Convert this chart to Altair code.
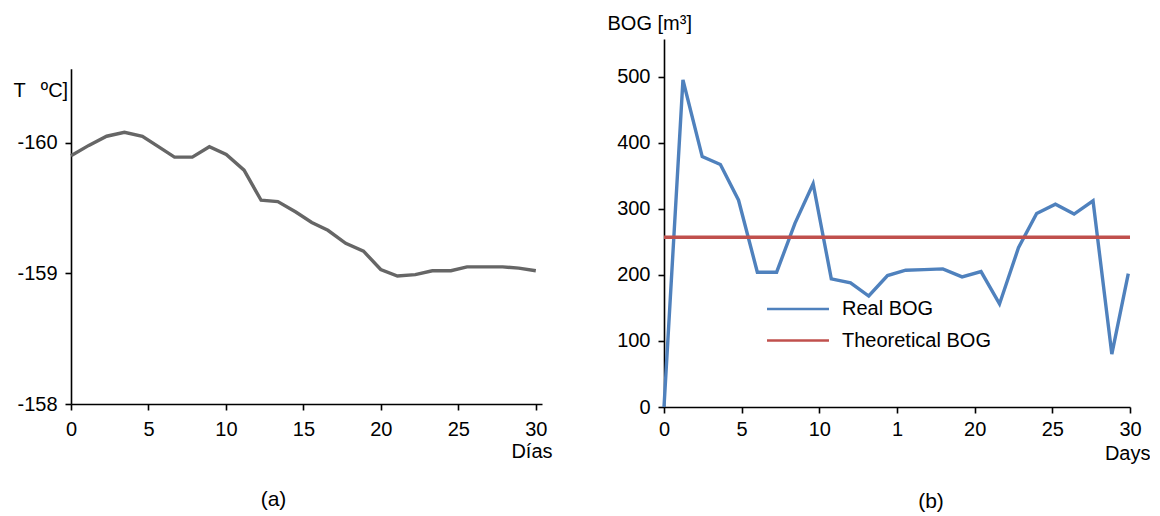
import altair as alt
import pandas as pd

# ---- data ----
temp_days = [0, 1.15, 2.30, 3.45, 4.61, 5.64, 6.68, 7.83, 8.93, 10.02, 11.17, 12.27, 13.35,
             14.51, 15.54, 16.58, 17.73, 18.88, 19.99, 21.07, 22.22, 23.32, 24.52, 25.56,
             26.71, 27.86, 28.90, 30.0]
temp_values = [-159.90, -159.98, -160.05, -160.08, -160.05, -159.97, -159.89, -159.89,
               -159.97, -159.91, -159.79, -159.56, -159.55, -159.47, -159.39, -159.33,
               -159.23, -159.17, -159.03, -158.98, -158.99, -159.02, -159.02, -159.05,
               -159.05, -159.05, -159.04, -159.02]

bog_days = [0, 1.22, 2.46, 3.63, 4.80, 6.01, 7.25, 8.43, 9.60, 10.77, 12.01, 13.18, 14.39,
            15.56, 16.73, 17.95, 19.19, 20.41, 21.60, 22.82, 23.99, 25.20, 26.40, 27.62,
            28.83, 29.89]
bog_real = [0, 495, 379, 367, 313, 204, 204, 278, 338, 194, 188, 168, 199, 207, 208, 209,
            197, 205, 156, 241, 293, 307, 292, 312, 80, 202]
theo_days = [0, 30]
theo_values = [257, 257]

series_names = ["Real BOG", "Theoretical BOG"]
series_colors = ["#4f81bd", "#c0504d"]
x_ticks = [0, 5, 10, 15, 20, 25, 30]
temp_ticks = [-160, -159, -158]
bog_ticks = [0, 100, 200, 300, 400, 500]

FONT = "Liberation Sans"

df_t = pd.DataFrame({"day": temp_days, "temp": temp_values})
df_b = pd.concat([
    pd.DataFrame({"day": bog_days, "bog": bog_real, "series": series_names[0]}),
    pd.DataFrame({"day": theo_days, "bog": theo_values, "series": series_names[1]}),
], ignore_index=True)

axis_common = dict(grid=False, domainColor="black", domainWidth=1.6, tickColor="black",
                   tickWidth=1.6, tickSize=6, labelFont=FONT, labelFontSize=20,
                   labelColor="black", titleFont=FONT, titleFontSize=20,
                   titleFontWeight="normal", titleColor="black")

left = alt.Chart(df_t).mark_line(color="#666666", strokeWidth=3.4).encode(
    x=alt.X("day:Q",
            scale=alt.Scale(domain=[0, 30.4], nice=False, zero=False),
            axis=alt.Axis(values=x_ticks, title="Días", labelPadding=9,
                          labelExpr="'' + datum.value",
                          titleAngle=0, titleAlign="right", titleBaseline="alphabetic",
                          titleX=481, titleY=53, labelFlush=False, **axis_common)),
    y=alt.Y("temp:Q",
            scale=alt.Scale(domain=[-160.567, -158], range=[29.7, 365], nice=False, zero=False),
            axis=alt.Axis(values=temp_ticks, title="T\u00a0\u00a0\u2009ºC]", labelPadding=8,
                          labelExpr="'' + datum.value",
                          titleAngle=0, titleAlign="left", titleBaseline="alphabetic",
                          titleX=-58, titleY=57, **axis_common)),
).properties(
    width=471, height=365,
    title=alt.TitleParams("(a)", orient="bottom", anchor="middle", dx=-33, offset=28,
                          font=FONT, fontSize=21, fontWeight="normal", color="black"),
)

bog_line = alt.Chart(df_b).mark_line(strokeWidth=3.4).encode(
    x=alt.X("day:Q",
            scale=alt.Scale(domain=[0, 30], nice=False, zero=False),
            axis=alt.Axis(values=x_ticks, title="Days", labelPadding=6,
                          labelExpr="datum.value == 15 ? '1' : '' + datum.value",
                          titleAngle=0, titleAlign="right", titleBaseline="alphabetic",
                          titleX=486, titleY=52, labelFlush=False, **axis_common)),
    y=alt.Y("bog:Q",
            scale=alt.Scale(domain=[0, 557], nice=False, zero=False),
            axis=alt.Axis(values=bog_ticks, title="BOG [m³]", labelPadding=8,
                          labelExpr="'' + datum.value",
                          titleAngle=0, titleAlign="left", titleBaseline="alphabetic",
                          titleX=-57, titleY=-10, **axis_common)),
    color=alt.Color("series:N",
                    scale=alt.Scale(domain=series_names, range=series_colors),
                    legend=alt.Legend(title=None, orient="none", legendX=717, legendY=260,
                                      symbolType="M-4,0H4", symbolSize=240,
                                      symbolStrokeWidth=2.4, labelFont=FONT,
                                      labelFontSize=20, labelColor="black",
                                      labelOffset=34, rowPadding=11.5)),
    detail="series:N",
)

right = bog_line.properties(
    width=466, height=368,
    title=alt.TitleParams("(b)", orient="bottom", anchor="middle", dx=34, offset=28,
                          font=FONT, fontSize=21, fontWeight="normal", color="black"),
)

chart = alt.hconcat(left, right, spacing=122, bounds="flush").configure_view(
    stroke=None
).properties(
    padding={"left": 5, "top": 5, "right": 0, "bottom": 0}
)

chart.save("out.html", embed_options={"renderer": "svg", "actions": False})
